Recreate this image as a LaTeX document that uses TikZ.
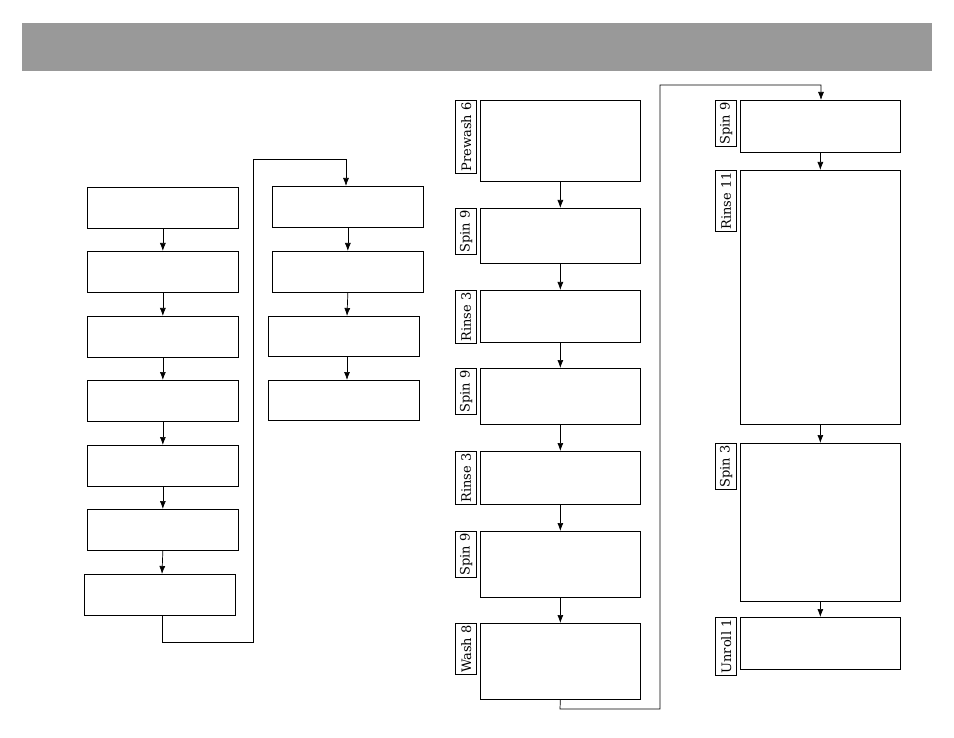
\documentclass[tikz,border=0pt]{standalone}
\usepackage{fontspec}
\setmainfont{DejaVu Serif}
\usetikzlibrary{arrows.meta}
\begin{document}
\begin{tikzpicture}[x=1pt,y=-1pt,
 box/.style={draw,line width=0.7pt},
 tab/.style={draw,line width=0.7pt,rotate=90,anchor=south east,font=\fontsize{13}{14}\selectfont,inner xsep=2pt,inner ysep=0pt,minimum height=21pt},
 arr/.style={-{Latex[length=8pt,width=6pt]},line width=0.7pt}]
\useasboundingbox (0,0) rectangle (954,738);
\fill[gray!80] (22,23) rectangle (932,71);
% column 1
\foreach \n/\a/\b in {a1/187/228,a2/251/292,a3/316/357,a4/380/421,a5/445/486,a6/509/550}
  \node[box,minimum width=151pt,minimum height=41pt,anchor=north west] (\n) at (87,\a) {};
\node[box,minimum width=151pt,minimum height=41pt,anchor=north west] (a7) at (84,574) {};
\foreach \p/\q in {a1/a2,a2/a3,a3/a4,a4/a5,a5/a6}
  \draw[arr] (\p.south) -- (\q.north);
\draw[arr] (a6.south) -- (162,574);
% column 2
\node[box,minimum width=151pt,minimum height=41pt,anchor=north west] (b1) at (272,186) {};
\node[box,minimum width=151pt,minimum height=41pt,anchor=north west] (b2) at (272,251) {};
\node[box,minimum width=151pt,minimum height=40pt,anchor=north west] (b3) at (268,316) {};
\node[box,minimum width=151pt,minimum height=40pt,anchor=north west] (b4) at (268,380) {};
\draw[arr] (b1.south) -- (b2.north);
\draw[arr] (b2.south) -- (347,316);
\draw[arr] (347,356) -- (347,380);
\draw[arr] (162,615) -- (162,642) -- (253,642) -- (253,159) -- (346,159) -- (346,186);
% column 3
\foreach \n/\a/\b/\t in {c1/100/181/Prewash 6,c2/208/263/Spin 9,c3/290/342/Rinse 3,c4/368/424/Spin 9,c5/451/504/Rinse 3,c6/531/597/Spin 9,c7/623/699/Wash 8}{
  \node[box,minimum width=160pt,minimum height={\b-\a},anchor=north west] (\n) at (480,\a) {};
  \node[tab] (t\n) at (477,\a) {\t};
}
\foreach \p/\q in {c1/c2,c2/c3,c3/c4,c4/c5,c5/c6,c6/c7}
  \draw[arr] (\p.south) -- (\q.north);
\draw[arr] (c7.south) -- (560,709) -- (660,709) -- (660,85) -- (821,85) -- (821,100);
% column 4
\foreach \n/\a/\b/\t in {d1/100/152/Spin 9,d2/170/424/Rinse 11,d3/443/601/Spin 3,d4/617/669/Unroll 1}{
  \node[box,minimum width=160pt,minimum height={\b-\a},anchor=north west] (\n) at (740,\a) {};
  \node[tab] (t\n) at (737,\a) {\t};
}
\foreach \p/\q in {d1/d2,d2/d3,d3/d4}
  \draw[arr] (\p.south) -- (\q.north);
\end{tikzpicture}
\end{document}
